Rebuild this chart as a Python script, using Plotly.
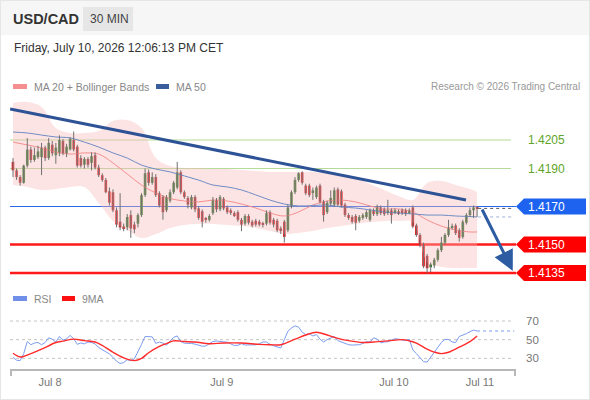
import plotly.graph_objects as go

W, H = 590, 400

# 30 min candles, index 0 is the first candle on the left (Jul 7 evening)
opens = [
    1.41935, 1.41890, 1.41855, 1.41825, 1.41915, 1.42000, 1.41945, 1.41960, 1.41960, 1.42010,
    1.41955, 1.42025, 1.41970, 1.41980, 1.42045, 1.41980, 1.42000, 1.42050, 1.42015, 1.41955,
    1.41920, 1.41950, 1.41930, 1.41970, 1.41905, 1.41865, 1.41840, 1.41780, 1.41775, 1.41680,
    1.41620, 1.41595, 1.41590, 1.41655, 1.41605, 1.41610, 1.41655, 1.41760, 1.41880, 1.41825,
    1.41855, 1.41770, 1.41750, 1.41680, 1.41730, 1.41775, 1.41800, 1.41880, 1.41775, 1.41745,
    1.41695, 1.41750, 1.41690, 1.41675, 1.41635, 1.41630, 1.41665, 1.41735, 1.41685, 1.41740,
    1.41695, 1.41680, 1.41665, 1.41670, 1.41630, 1.41610, 1.41650, 1.41620, 1.41625, 1.41620,
    1.41610, 1.41610, 1.41670, 1.41630, 1.41625, 1.41585, 1.41620, 1.41575, 1.41700, 1.41775,
    1.41840, 1.41880, 1.41810, 1.41810, 1.41775, 1.41750, 1.41810, 1.41725, 1.41670, 1.41715,
    1.41710, 1.41790, 1.41780, 1.41710, 1.41655, 1.41645, 1.41650, 1.41625, 1.41640, 1.41645,
    1.41630, 1.41680, 1.41660, 1.41695, 1.41685, 1.41665, 1.41680, 1.41670, 1.41675, 1.41680,
    1.41680, 1.41670, 1.41695, 1.41600, 1.41550, 1.41500, 1.41440, 1.41380, 1.41390, 1.41420,
    1.41470, 1.41510, 1.41550, 1.41590, 1.41600, 1.41575, 1.41540, 1.41615, 1.41655, 1.41680,
    1.41695,
]
highs = [
    1.41955, 1.41900, 1.41865, 1.41920, 1.42060, 1.42015, 1.42010, 1.42020, 1.42035, 1.42020,
    1.42060, 1.42045, 1.42035, 1.42075, 1.42055, 1.42030, 1.42065, 1.42095, 1.42025, 1.41970,
    1.41960, 1.41960, 1.41985, 1.41985, 1.41920, 1.41875, 1.41850, 1.41800, 1.41790, 1.41695,
    1.41770, 1.41610, 1.41660, 1.41680, 1.41620, 1.41665, 1.41770, 1.41900, 1.41895, 1.41880,
    1.41870, 1.41780, 1.41760, 1.41760, 1.41790, 1.41835, 1.41935, 1.41890, 1.41785, 1.41755,
    1.41760, 1.41760, 1.41700, 1.41685, 1.41645, 1.41660, 1.41750, 1.41745, 1.41760, 1.41750,
    1.41705, 1.41690, 1.41675, 1.41680, 1.41640, 1.41660, 1.41660, 1.41630, 1.41635, 1.41630,
    1.41620, 1.41680, 1.41680, 1.41640, 1.41635, 1.41595, 1.41630, 1.41710, 1.41785, 1.41855,
    1.41880, 1.41885, 1.41820, 1.41820, 1.41800, 1.41810, 1.41820, 1.41735, 1.41730, 1.41785,
    1.41800, 1.41800, 1.41790, 1.41720, 1.41665, 1.41655, 1.41660, 1.41655, 1.41665, 1.41680,
    1.41690, 1.41690, 1.41710, 1.41705, 1.41695, 1.41735, 1.41690, 1.41690, 1.41685, 1.41690,
    1.41690, 1.41690, 1.41705, 1.41610, 1.41560, 1.41510, 1.41450, 1.41405, 1.41430, 1.41480,
    1.41540, 1.41560, 1.41630, 1.41610, 1.41610, 1.41585, 1.41630, 1.41665, 1.41695, 1.41705,
    1.41700,
]
lows = [
    1.41855, 1.41840, 1.41810, 1.41820, 1.41905, 1.41930, 1.41935, 1.41950, 1.41865, 1.41940,
    1.41945, 1.41965, 1.41925, 1.41965, 1.41970, 1.41960, 1.41995, 1.41990, 1.41905, 1.41905,
    1.41900, 1.41905, 1.41890, 1.41895, 1.41855, 1.41830, 1.41770, 1.41705, 1.41670, 1.41590,
    1.41575, 1.41570, 1.41575, 1.41535, 1.41560, 1.41590, 1.41645, 1.41750, 1.41810, 1.41815,
    1.41750, 1.41695, 1.41630, 1.41670, 1.41720, 1.41765, 1.41790, 1.41765, 1.41740, 1.41690,
    1.41685, 1.41670, 1.41630, 1.41590, 1.41615, 1.41620, 1.41655, 1.41670, 1.41675, 1.41680,
    1.41660, 1.41655, 1.41645, 1.41620, 1.41570, 1.41600, 1.41605, 1.41590, 1.41595, 1.41595,
    1.41590, 1.41600, 1.41605, 1.41590, 1.41565, 1.41555, 1.41510, 1.41565, 1.41690, 1.41765,
    1.41830, 1.41815, 1.41760, 1.41750, 1.41735, 1.41740, 1.41715, 1.41620, 1.41660, 1.41705,
    1.41700, 1.41700, 1.41695, 1.41645, 1.41630, 1.41610, 1.41575, 1.41615, 1.41630, 1.41635,
    1.41620, 1.41650, 1.41650, 1.41655, 1.41650, 1.41655, 1.41610, 1.41660, 1.41655, 1.41655,
    1.41650, 1.41660, 1.41585, 1.41540, 1.41485, 1.41375, 1.41350, 1.41355, 1.41375, 1.41410,
    1.41460, 1.41500, 1.41540, 1.41580, 1.41550, 1.41515, 1.41530, 1.41605, 1.41645, 1.41640,
    1.41645,
]
closes = [
    1.41890, 1.41855, 1.41825, 1.41915, 1.42000, 1.41945, 1.41970, 1.41990, 1.42010, 1.41955,
    1.42035, 1.41980, 1.42010, 1.42050, 1.41980, 1.42015, 1.42055, 1.42000, 1.41915, 1.41915,
    1.41950, 1.41920, 1.41965, 1.41905, 1.41865, 1.41840, 1.41775, 1.41720, 1.41680, 1.41605,
    1.41590, 1.41585, 1.41645, 1.41585, 1.41580, 1.41655, 1.41760, 1.41875, 1.41825, 1.41855,
    1.41760, 1.41705, 1.41670, 1.41750, 1.41775, 1.41825, 1.41880, 1.41775, 1.41750, 1.41710,
    1.41750, 1.41685, 1.41640, 1.41620, 1.41630, 1.41650, 1.41735, 1.41685, 1.41750, 1.41690,
    1.41670, 1.41670, 1.41655, 1.41630, 1.41605, 1.41650, 1.41615, 1.41600, 1.41605, 1.41605,
    1.41605, 1.41665, 1.41615, 1.41605, 1.41575, 1.41575, 1.41540, 1.41695, 1.41775, 1.41840,
    1.41875, 1.41825, 1.41770, 1.41760, 1.41785, 1.41800, 1.41725, 1.41655, 1.41720, 1.41745,
    1.41785, 1.41710, 1.41705, 1.41655, 1.41640, 1.41620, 1.41615, 1.41645, 1.41655, 1.41670,
    1.41680, 1.41660, 1.41700, 1.41665, 1.41660, 1.41680, 1.41655, 1.41680, 1.41665, 1.41670,
    1.41660, 1.41680, 1.41595, 1.41550, 1.41495, 1.41385, 1.41375, 1.41395, 1.41420, 1.41470,
    1.41510, 1.41550, 1.41590, 1.41595, 1.41560, 1.41535, 1.41620, 1.41655, 1.41680, 1.41695,
    1.41690,
]

rsi = [
    31, 28, 27.6, 35, 48, 44.6, 46.4, 47, 44.6, 47,
    52, 50.5, 47.5, 53.5, 49.5, 51, 54.5, 51, 45, 46.5,
    45.5, 47.5, 47, 45.5, 41.5, 39, 37, 34.8, 31, 27,
    24.5, 25.5, 28.5, 27.5, 29.5, 36.5, 45, 53.5, 53, 53,
    46, 47.5, 46.4, 44, 48.5, 52.5, 54, 48, 46.2, 46.5,
    46, 45.2, 44, 43, 43.2, 46, 48, 48.5, 48, 47,
    47.3, 45.5, 43.8, 44, 45.7, 44.3, 44.3, 45, 44.5, 45.5,
    47.5, 47.5, 45, 43.5, 42, 41, 50, 59, 62.5, 64.8,
    63.5, 58, 55.5, 56.3, 54, 55.5, 50.5, 47.5, 50, 52,
    53.5, 49, 47.5, 46, 44.6, 44.2, 44.2, 44.6, 46, 47.8,
    47.5, 52, 50.5, 46.6, 47.5, 47.8, 49.5, 51, 50.6, 50.2,
    49, 50.5, 39, 35, 31, 26.5, 26, 31.5, 37, 42,
    47, 50.3, 50.2, 47.5, 47, 53.4, 54.8, 56.5, 58.5, 60.3,
    59.3,
]

# indicator lines, every 4th candle
ind_idx = [0, 4, 8, 12, 16, 20, 24, 28, 32, 36, 40, 44, 48, 52, 56, 60, 64,
           68, 72, 76, 80, 84, 88, 92, 96, 100, 104, 108, 112, 116, 120, 124, 128, 130]
bb_upper = [1.42245, 1.42250, 1.42224, 1.42113, 1.42087, 1.42087, 1.42097, 1.42150, 1.42155,
            1.42113, 1.41955, 1.41913, 1.41903, 1.41903, 1.41897, 1.41897, 1.41892, 1.41887,
            1.41882, 1.41882, 1.41882, 1.41882, 1.41876, 1.41861, 1.41850, 1.41818, 1.41787,
            1.41755, 1.41734, 1.41824, 1.41834, 1.41813, 1.41792, 1.41776]
bb_lower = [1.41813, 1.41803, 1.41787, 1.41792, 1.41803, 1.41803, 1.41718, 1.41624, 1.41576,
            1.41534, 1.41555, 1.41587, 1.41603, 1.41608, 1.41608, 1.41603, 1.41597, 1.41587,
            1.41571, 1.41555, 1.41561, 1.41571, 1.41587, 1.41597, 1.41608, 1.41618, 1.41624,
            1.41624, 1.41618, 1.41408, 1.41382, 1.41376, 1.41376, 1.41376]
ma20 = [1.42039, 1.42024, 1.42008, 1.41987, 1.41976, 1.41982, 1.41976, 1.41929, 1.41871,
        1.41813, 1.41771, 1.41742, 1.41729, 1.41724, 1.41734, 1.41729, 1.41713, 1.41692,
        1.41666, 1.41650, 1.41671, 1.41708, 1.41729, 1.41734, 1.41724, 1.41703, 1.41687,
        1.41687, 1.41671, 1.41629, 1.41597, 1.41576, 1.41566, 1.41566]
ma50 = [1.42092, 1.42087, 1.42076, 1.42066, 1.42061, 1.42039, 1.42013, 1.41982, 1.41955,
        1.41918, 1.41897, 1.41882, 1.41861, 1.41839, 1.41813, 1.41803, 1.41787, 1.41761,
        1.41734, 1.41713, 1.41703, 1.41705, 1.41708, 1.41697, 1.41692, 1.41682, 1.41671,
        1.41666, 1.41661, 1.41655, 1.41655, 1.41650, 1.41647, 1.41645]

rsi_ma_idx = [0, 2, 4, 8, 12, 14, 17, 20, 23, 26, 28, 31, 34, 36, 38, 41, 43, 45, 48, 51,
              55, 59, 64, 69, 72, 75, 79, 82, 85, 88, 91, 94, 98, 101, 105, 109, 111, 113,
              116, 118, 120, 122, 125, 128, 130]
rsi_ma = [35.5, 31.5, 33.5, 39.8, 47, 48.5, 50.6, 49, 47.5, 41.5, 36.5, 30.5, 27.6, 30, 36,
          42.8, 45.8, 48.7, 48, 47.5, 45.7, 46.4, 46.4, 45, 44.6, 44.6, 50.5, 55, 57.9, 55,
          51.4, 49, 47, 47.5, 48.7, 50, 48.7, 46.4, 39.8, 36.7, 35, 36.5, 42, 48, 54]

day_ticks = [10.4, 58.5, 106.7, 130.8]
day_labels = ['Jul 8', 'Jul 9', 'Jul 10', 'Jul 11']

resistances = [1.4205, 1.4190]
pivot = 1.4170
supports = [1.4150, 1.4135]
rsi_levels = [70, 50, 30]

trend_x = [-0.8, 126.9]
trend_y = [1.42213, 1.41734]
arrow_from = (131.2, 1.41692)
arrow_to = (140.0, 1.41361)

GREEN = '#2f7f24'
RED = '#e3161c'
FONT = 'Liberation Sans, Arial, sans-serif'


def px(x):
    return x / W


def py(y):
    return 1 - y / H


x_idx = list(range(len(closes)))
body_base = [min(o, c) for o, c in zip(opens, closes)]
body_h = [max(abs(c - o), 0.00004) for o, c in zip(opens, closes)]
body_col = [GREEN if c >= o else RED for o, c in zip(opens, closes)]

wick_x, wick_y = [], []
for i, lo, hi in zip(x_idx, lows, highs):
    wick_x += [i, i, None]
    wick_y += [lo, hi, None]

fig = go.Figure()

# bollinger band
fig.add_trace(go.Scatter(x=ind_idx, y=bb_upper, mode='lines', line=dict(width=0, shape='spline'),
                         hoverinfo='skip'))
fig.add_trace(go.Scatter(x=ind_idx, y=bb_lower, mode='lines', line=dict(width=0, shape='spline'),
                         fill='tonexty', fillcolor='rgba(250,185,185,0.38)', hoverinfo='skip'))
fig.add_trace(go.Scatter(x=ind_idx, y=ma20, mode='lines',
                         line=dict(color='#f58f8f', width=1, shape='spline')))
fig.add_trace(go.Scatter(x=ind_idx, y=ma50, mode='lines',
                         line=dict(color='#6f8cc4', width=1, shape='spline')))

# candles
fig.add_trace(go.Scatter(x=wick_x, y=wick_y, mode='lines', line=dict(color='#707070', width=1),
                         hoverinfo='skip'))
fig.add_trace(go.Bar(x=x_idx, y=body_h, base=body_base, width=0.75,
                     marker=dict(color=body_col, line=dict(width=0))))

# trend line
fig.add_trace(go.Scatter(x=trend_x, y=trend_y, mode='lines', line=dict(color='#2d5296', width=3)))

# RSI panel
fig.add_trace(go.Scatter(x=x_idx, y=rsi, mode='lines', line=dict(color='#7b9cf0', width=1),
                         xaxis='x', yaxis='y2'))
fig.add_trace(go.Scatter(x=rsi_ma_idx, y=rsi_ma, mode='lines',
                         line=dict(color='#ff2a2a', width=1.4, shape='spline'),
                         xaxis='x', yaxis='y2'))
fig.add_trace(go.Scatter(x=[x_idx[-1], 140.4], y=[rsi[-1], rsi[-1]], mode='lines',
                         line=dict(color='#7b9cf0', width=1.2, dash='dot'),
                         xaxis='x', yaxis='y2'))

shapes = []
annotations = []

# header
shapes.append(dict(type='rect', xref='paper', yref='paper', x0=0, x1=1, y0=py(35), y1=1,
                   fillcolor='#f6f6f6', line=dict(width=0), layer='below'))
shapes.append(dict(type='rect', xref='paper', yref='paper', x0=px(83), x1=px(133),
                   y0=py(31), y1=py(7), fillcolor='#e6e6e6', line=dict(width=0), layer='below'))
shapes.append(dict(type='rect', xref='paper', yref='paper', x0=0, x1=1, y0=0, y1=1,
                   line=dict(color='#e6e6e6', width=2)))
annotations += [
    dict(x=px(11), y=py(19), text='<b>USD/CAD</b>', font=dict(size=14.5, color='#333333')),
    dict(x=px(88), y=py(19), text='30 MIN', font=dict(size=12, color='#444444')),
    dict(x=px(12), y=py(48), text='Friday, July 10, 2026 12:06:13 PM CET',
         font=dict(size=12, color='#333333')),
    dict(x=px(32), y=py(86.5), text='MA 20 + Bollinger Bands', font=dict(size=10.5, color='#888888')),
    dict(x=px(174), y=py(86.5), text='MA 50', font=dict(size=10.5, color='#888888')),
    dict(x=px(32), y=py(298.5), text='RSI', font=dict(size=10.5, color='#888888')),
    dict(x=px(80), y=py(298.5), text='9MA', font=dict(size=10.5, color='#888888')),
    dict(x=px(582), y=py(86.5), text='Research © 2026 Trading Central', xanchor='right',
         font=dict(size=10, color='#999999')),
]
for x0, x1, y0, y1, col in [(13, 27, 84, 89, '#f58f8f'), (156, 169, 84, 89, '#3a5d9e'),
                            (13, 27, 296, 301, '#6f8fe8'), (62, 75, 296, 301, '#ff1010')]:
    shapes.append(dict(type='rect', xref='paper', yref='paper', x0=px(x0), x1=px(x1),
                       y0=py(y1), y1=py(y0), fillcolor=col, line=dict(width=0)))

# price levels
for lv in resistances:
    shapes.append(dict(type='line', xref='x domain', yref='y', x0=0, x1=0.99, y0=lv, y1=lv,
                       line=dict(color='#b4dc98', width=1.2), layer='below'))
    annotations.append(dict(x=px(526), y=lv, yref='y', text=f'{lv:.4f}',
                            font=dict(size=12, color='#5fa52a')))
shapes.append(dict(type='line', xref='x domain', yref='y', x0=0, x1=1, y0=pivot, y1=pivot,
                   line=dict(color='#2a6ae8', width=1.2), layer='below'))
for lv in supports:
    shapes.append(dict(type='line', xref='x domain', yref='y', x0=0, x1=1, y0=lv, y1=lv,
                       line=dict(color='#ff1a1a', width=2.5), layer='below'))

half = 8 / 19000
for lv, col in [(pivot, '#1d63f0'), (supports[0], '#ff0000'), (supports[1], '#ff0000')]:
    path = (f'M {px(516)},{lv} L {px(524)},{lv + half} L {px(586)},{lv + half} '
            f'L {px(586)},{lv - half} L {px(524)},{lv - half} Z')
    shapes.append(dict(type='path', xref='paper', yref='y', path=path, fillcolor=col,
                       line=dict(width=0)))
    annotations.append(dict(x=px(526), y=lv, yref='y', text=f'{lv:.4f}',
                            font=dict(size=12, color='white')))

# last price and MA50 markers
shapes.append(dict(type='line', xref='x', yref='y', x0=x_idx[-1] + 0.3, x1=140.4,
                   y0=closes[-1], y1=closes[-1], line=dict(color='#555555', width=1, dash='dot')))
shapes.append(dict(type='line', xref='x', yref='y', x0=x_idx[-1] + 0.3, x1=140.4,
                   y0=ma50[-1], y1=ma50[-1], line=dict(color='#9fb0d6', width=1, dash='dot')))

# RSI grid and axis
for lv in rsi_levels:
    shapes.append(dict(type='line', xref='x domain', yref='y2', x0=0, x1=0.992, y0=lv, y1=lv,
                       line=dict(color='#c4c4c4', width=1, dash='dot'), layer='below'))
    annotations.append(dict(x=px(524), y=lv, yref='y2', text=str(lv),
                            font=dict(size=11.5, color='#777777')))
shapes.append(dict(type='line', xref='paper', yref='paper', x0=px(10), x1=px(516),
                   y0=py(370), y1=py(370), line=dict(color='#b8b8b8', width=2)))
for xe in [11, 515]:
    shapes.append(dict(type='line', xref='paper', yref='paper', x0=px(xe), x1=px(xe),
                       y0=py(369), y1=py(376), line=dict(color='#b8b8b8', width=2)))

# forecast arrow
annotations.append(dict(x=arrow_to[0], y=arrow_to[1], xref='x', yref='y',
                        ax=arrow_from[0], ay=arrow_from[1], axref='x', ayref='y',
                        text='', showarrow=True, arrowhead=2, arrowsize=1.35, arrowwidth=3,
                        arrowcolor='#2d5ca3'))

for a in annotations:
    a.setdefault('xref', 'paper')
    a.setdefault('yref', 'paper')
    a.setdefault('showarrow', False)
    a.setdefault('xanchor', 'left')
    a.setdefault('yanchor', 'middle')

fig.update_layout(
    width=W, height=H,
    margin=dict(l=0, r=0, t=0, b=0),
    paper_bgcolor='white', plot_bgcolor='rgba(0,0,0,0)',
    showlegend=False,
    font=dict(family=FONT),
    xaxis=dict(domain=[px(10), px(516)], range=[-0.84, 140.9], anchor='y2',
               showgrid=False, zeroline=False, showline=False, ticks='',
               tickvals=day_ticks, ticktext=day_labels, ticklabelstandoff=4,
               tickfont=dict(size=11, color='#777777')),
    yaxis=dict(domain=[py(282), py(98)], range=[1.413026, 1.422711], visible=False),
    yaxis2=dict(domain=[py(370), py(310)], range=[17.5, 81.8], visible=False),
    shapes=shapes,
    annotations=annotations,
    hovermode=False,
)

# the page body has a default 8px margin; drop it so the figure fills the window
fig.write_html('out.html', config={'displayModeBar': False},
               post_script="document.body.style.margin='0px';")
